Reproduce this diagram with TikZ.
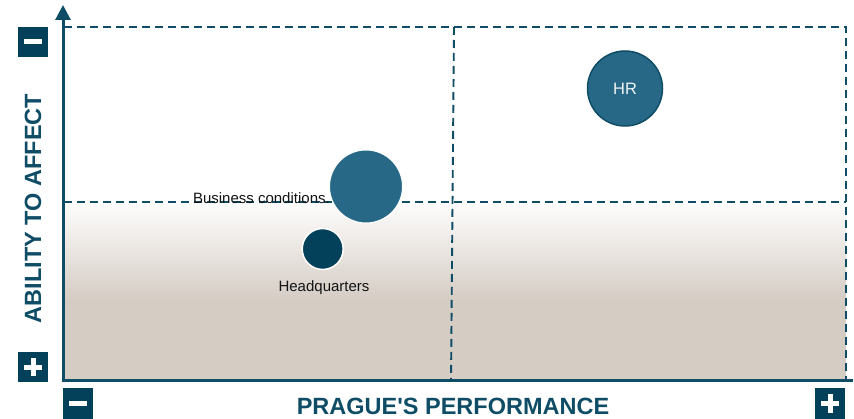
\documentclass[tikz,border=0pt]{standalone}
\usepackage{fontspec}
\setmainfont{Liberation Sans}
\newfontfamily\plainsans{Liberation Sans}
\usetikzlibrary{arrows.meta}
\definecolor{dk}{HTML}{03405A}
\definecolor{ln}{HTML}{0F4C66}
\definecolor{mid}{HTML}{266886}
\definecolor{beige}{HTML}{D5CCC4}
\tikzset{
  signbox/.style={fill=dk, minimum size=30pt, inner sep=0pt},
  grid/.style={draw=ln, line width=1.9pt, dash pattern=on 8pt off 5pt},
  bubble/.style={circle, fill=mid, inner sep=0pt},
  lbl/.style={font=\fontsize{15}{17}\selectfont, text=black!92, inner sep=0pt},
  axlbl/.style={font=\plainsans\fontsize{23.5}{26}\selectfont\bfseries, text=ln, inner sep=0pt}
}
\begin{document}
\begin{tikzpicture}[x=1pt,y=-1pt]
\useasboundingbox (0,0) rectangle (854,419);
% shaded lower region
\shade[top color=white!97!beige, bottom color=beige] (64,202) rectangle (846,300);
\fill[beige] (64,299.5) rectangle (846,381);
% coordinates
\coordinate (o) at (63,381);
\coordinate (ytop) at (63,5);
\coordinate (xend) at (853,381);
\coordinate (tl) at (64,27);
\coordinate (tr) at (846,27);
\coordinate (br) at (846,381);
\coordinate (ml) at (64,202);
\coordinate (mr) at (846,202);
\coordinate (mt) at (454,27);
\coordinate (mb) at (451,381);
% dashed grid
\draw[grid] (tl) -- (tr) -- (br);
\draw[grid] (ml) -- (mr);
\draw[grid] (mt) -- (mb);
% axes
\draw[draw=ln, line width=3pt, -{Triangle[width=15pt,length=15pt]}] (o) -- (ytop);
\draw[draw=ln, line width=3pt] (61.5,381) -- (xend);
% sign boxes
\node[signbox] (ym) at (33,42) {};
\fill[white] ([xshift=-9pt,yshift=-2.5pt]ym.center) rectangle ([xshift=9pt,yshift=2.5pt]ym.center);
\node[signbox] (yp) at (33,367.5) {};
\fill[white] ([xshift=-9pt,yshift=-2.5pt]yp.center) rectangle ([xshift=9pt,yshift=2.5pt]yp.center);
\fill[white] ([xshift=-2.5pt,yshift=-9pt]yp.center) rectangle ([xshift=2.5pt,yshift=9pt]yp.center);
\node[signbox] (xm) at (78,403.5) {};
\fill[white] ([xshift=-9pt,yshift=-2.5pt]xm.center) rectangle ([xshift=9pt,yshift=2.5pt]xm.center);
\node[signbox] (xp) at (830,403.5) {};
\fill[white] ([xshift=-9pt,yshift=-2.5pt]xp.center) rectangle ([xshift=9pt,yshift=2.5pt]xp.center);
\fill[white] ([xshift=-2.5pt,yshift=-9pt]xp.center) rectangle ([xshift=2.5pt,yshift=9pt]xp.center);
% axis labels
\node[axlbl, rotate=90] (ylab) at (33,208.5) {ABILITY TO AFFECT};
\node[axlbl] (xlab) at (453,406) {PRAGUE'S PERFORMANCE};
% bubbles
\node[bubble, minimum size=73pt, draw=white, line width=1pt] (bc) at (366,186.5) {};
\node[lbl, anchor=east] (bct) at (330,198) {Business conditions.};
\node[bubble, fill=dk, minimum size=41pt, draw=white, line width=1.5pt] (hq) at (322.7,249) {};
\node[lbl] (hqt) at (324,288) {Headquarters};
\node[bubble, minimum size=75pt, draw=ln, line width=1.5pt, font=\fontsize{16.5}{18}\selectfont, text=white!92!mid] (hr) at (625,88.5) {HR};
\end{tikzpicture}
\end{document}
